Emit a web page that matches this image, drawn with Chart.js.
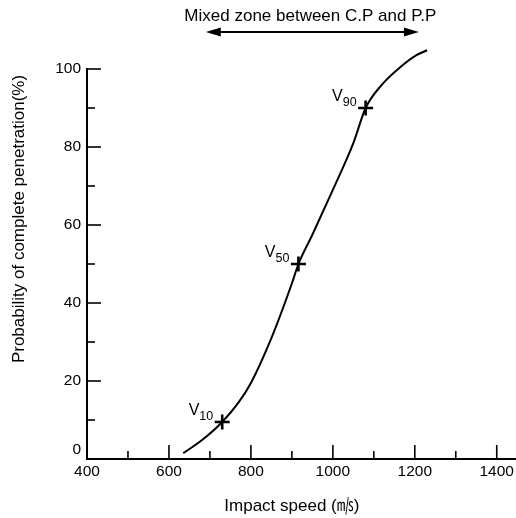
<!DOCTYPE html>
<html>
<head>
<meta charset="utf-8">
<title>Probability of complete penetration</title>
<script src="https://cdn.jsdelivr.net/npm/chart.js@4.4.1/dist/chart.umd.min.js"></script>
<style>
  body { margin: 0; background: #fff; }
  #wrap { width: 516px; height: 518px; }
</style>
</head>
<body>
<div id="wrap"><canvas id="myChart" width="516" height="518"></canvas></div>
<script>
// dados
const speed = [635, 680, 730, 770, 800, 850, 900, 916, 950, 1000, 1050, 1080, 1120, 1165, 1205, 1230];
const probability = [1.5, 4.8, 9.5, 14.5, 19.5, 31, 45, 50, 57.5, 69, 81, 90, 96, 100.5, 103.6, 104.8];

const markerSpeed = [730, 916, 1080];
const markerProb = [9.5, 50, 90];
const markerSub = ['10', '50', '90'];

const xTicks = [400, 500, 600, 700, 800, 900, 1000, 1100, 1200, 1300, 1400];
const yTicks = [0, 10, 20, 30, 40, 50, 60, 70, 80, 90, 100];

const zone = [690, 1210];
const zoneText = 'Mixed zone between C.P and P.P';
const xTitle = 'Impact speed (㎧)';
const yTitle = 'Probability of complete penetration(%)';

const FONT = '"Liberation Sans", Arial, "Noto Sans CJK KR", sans-serif';

const extras = {
  id: 'extras',
  afterDraw(chart) {
    const c = chart.ctx;
    const xs = chart.scales.x, ys = chart.scales.y;
    const x0 = xs.getPixelForValue(400), y0 = ys.getPixelForValue(0);
    c.save();
    c.strokeStyle = '#000';
    c.fillStyle = '#000';
    c.lineWidth = 1.6;

    // marcas dos eixos (para dentro)
    yTicks.forEach(v => {
      if (v === 0) return;
      const len = v % 20 === 0 ? 14 : 8;
      const py = ys.getPixelForValue(v);
      c.beginPath(); c.moveTo(x0, py); c.lineTo(x0 + len, py); c.stroke();
    });
    xTicks.forEach(v => {
      if (v === 400) return;
      const len = v % 200 === 0 ? 14 : 8;
      const px = xs.getPixelForValue(v);
      c.beginPath(); c.moveTo(px, y0); c.lineTo(px, y0 - len); c.stroke();
    });

    // V10, V50, V90
    markerSpeed.forEach((s, i) => {
      const px = xs.getPixelForValue(s), py = ys.getPixelForValue(markerProb[i]);
      c.font = '12.5px ' + FONT;
      const wSub = c.measureText(markerSub[i]).width;
      c.font = '16px ' + FONT;
      const wV = c.measureText('V').width;
      const right = px - 9;
      c.textAlign = 'left';
      c.textBaseline = 'alphabetic';
      c.fillText('V', right - wSub - wV, py - 7);
      c.font = '12.5px ' + FONT;
      c.fillText(markerSub[i], right - wSub, py - 2);
    });

    // seta da zona mista
    const ax1 = xs.getPixelForValue(zone[0]), ax2 = xs.getPixelForValue(zone[1]);
    const ay = 32;
    c.lineWidth = 2;
    c.beginPath(); c.moveTo(ax1 + 10, ay); c.lineTo(ax2 - 10, ay); c.stroke();
    c.beginPath(); c.moveTo(ax1, ay); c.lineTo(ax1 + 15, ay - 4.5); c.lineTo(ax1 + 15, ay + 4.5); c.closePath(); c.fill();
    c.beginPath(); c.moveTo(ax2, ay); c.lineTo(ax2 - 15, ay - 4.5); c.lineTo(ax2 - 15, ay + 4.5); c.closePath(); c.fill();

    c.font = '17px ' + FONT;
    c.textAlign = 'center';
    c.textBaseline = 'alphabetic';
    c.fillText(zoneText, (ax1 + ax2) / 2 - 2, 21);

    // titulos dos eixos
    c.font = '17px ' + FONT;
    c.fillText(xTitle, xs.getPixelForValue(900), 511);
    c.translate(19, 219);
    c.rotate(-Math.PI / 2);
    c.textBaseline = 'middle';
    c.fillText(yTitle, 0, 0);
    c.restore();
  }
};

const ctx = document.getElementById('myChart').getContext('2d');
const myChart = new Chart(ctx, {
  type: 'scatter',
  data: {
    datasets: [{
      label: 'curve',
      data: speed.map((s, i) => ({ x: s, y: probability[i] })),
      showLine: true,
      borderColor: '#000',
      borderWidth: 2,
      pointRadius: 0,
      cubicInterpolationMode: 'monotone',
      clip: false
    }, {
      label: 'markers',
      data: markerSpeed.map((s, i) => ({ x: s, y: markerProb[i] })),
      pointStyle: 'cross',
      pointRadius: 7.5,
      borderColor: '#000',
      borderWidth: 2.6,
      showLine: false
    }]
  },
  options: {
    responsive: false,
    animation: false,
    layout: { autoPadding: false, padding: { top: 69, right: 0, left: 0, bottom: 0 } },
    plugins: { legend: { display: false }, tooltip: { enabled: false } },
    scales: {
      x: {
        type: 'linear',
        min: 400,
        max: 1447,
        afterBuildTicks: s => { s.ticks = xTicks.map(v => ({ value: v })); },
        afterFit: s => { s.height = 59; s.paddingLeft = 0; s.paddingRight = 0; },
        grid: { display: true, drawOnChartArea: false, drawTicks: false },
        border: { display: true, color: '#000', width: 2 },
        ticks: {
          padding: 3,
          color: '#000',
          font: { family: FONT, size: 15.5 },
          maxRotation: 0,
          autoSkip: false,
          callback: v => (v % 200 === 0 ? String(v) : '')
        }
      },
      y: {
        min: 0,
        max: 100,
        afterBuildTicks: s => { s.ticks = yTicks.filter(v => v % 20 === 0).map(v => ({ value: v })); },
        afterFit: s => { s.width = 87; s.paddingTop = 0; s.paddingBottom = 0; },
        grid: { display: true, drawOnChartArea: false, drawTicks: false },
        border: { display: true, color: '#000', width: 2 },
        ticks: {
          padding: 6,
          color: '#000',
          font: { family: FONT, size: 15.5 },
          callback: v => (v === 0 ? ['0', ''] : String(v))
        }
      }
    }
  },
  plugins: [extras]
});
</script>
</body>
</html>
